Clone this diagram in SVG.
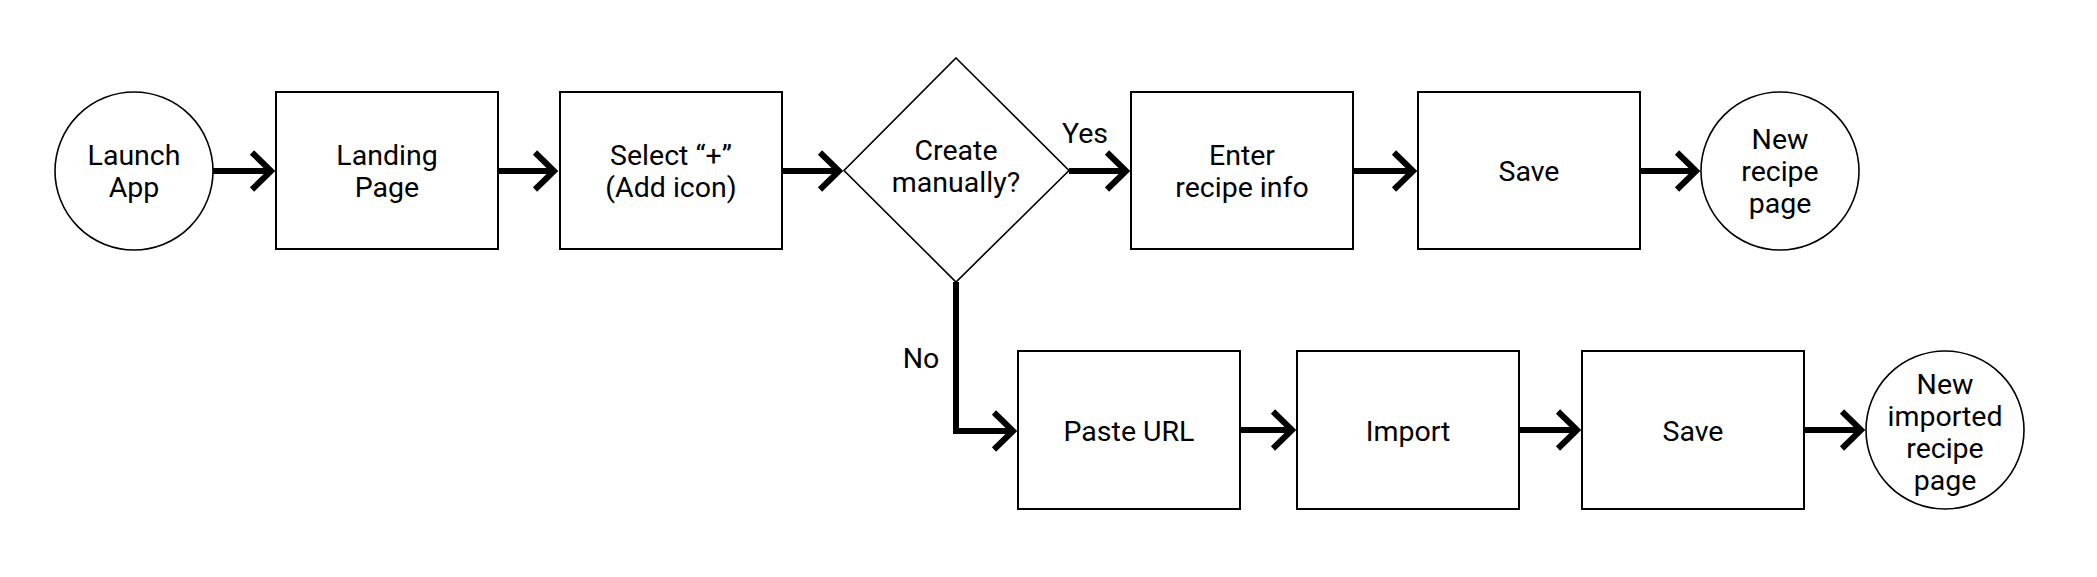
<svg xmlns="http://www.w3.org/2000/svg" width="2097" height="577" viewBox="0 0 2097 577">
  <style>
    .box { fill: #ffffff; stroke: #000000; stroke-width: 2; }
    .round { fill: #ffffff; stroke: #000000; stroke-width: 1.6; }
    .lbl { font-family: Roboto, "Liberation Sans", sans-serif; font-size: 28.5px; fill: #000000; text-anchor: middle; }
    .conn { fill: none; stroke: #000000; stroke-width: 6; stroke-linejoin: miter; stroke-linecap: butt; marker-end: url(#chev); }
  </style>
  <defs>
    <marker id="chev" markerUnits="userSpaceOnUse" markerWidth="40" markerHeight="50" refX="0" refY="0" orient="auto" overflow="visible">
      <path d="M-19,-18.5 L0,0 L-19,18.5" fill="none" stroke="#000000" stroke-width="6" stroke-linejoin="miter"/>
    </marker>
  </defs>
  <rect width="2097" height="577" fill="#ffffff"/>

  <g id="connectors">
    <path class="conn" d="M213,171 H271"/>
    <path class="conn" d="M498,171 H554"/>
    <path class="conn" d="M782,171 H839"/>
    <path class="conn" d="M1069,171 H1126"/>
    <path class="conn" d="M1353,171 H1413"/>
    <path class="conn" d="M1640,171 H1696"/>
    <path class="conn" d="M956,282 V431 H1013"/>
    <path class="conn" d="M1240,430 H1292"/>
    <path class="conn" d="M1519,430 H1577"/>
    <path class="conn" d="M1804,430 H1861"/>
    <text class="lbl" x="1085" y="143">Yes</text>
    <text class="lbl" x="921" y="368">No</text>
  </g>

  <g id="launch-app">
    <circle class="round" cx="134" cy="171" r="79"/>
    <text class="lbl" x="134" y="165">Launch</text>
    <text class="lbl" x="134" y="197">App</text>
  </g>
  <g id="landing-page">
    <rect class="box" x="276" y="92" width="222" height="157"/>
    <text class="lbl" x="387" y="165">Landing</text>
    <text class="lbl" x="387" y="197">Page</text>
  </g>
  <g id="select-add">
    <rect class="box" x="560" y="92" width="222" height="157"/>
    <text class="lbl" x="671" y="165">Select “+”</text>
    <text class="lbl" x="671" y="197">(Add icon)</text>
  </g>
  <g id="create-manually">
    <polygon class="round" points="956,58 1069,170.5 956,282 844,170.5"/>
    <text class="lbl" x="956" y="160">Create</text>
    <text class="lbl" x="956" y="192">manually?</text>
  </g>
  <g id="enter-recipe-info">
    <rect class="box" x="1131" y="92" width="222" height="157"/>
    <text class="lbl" x="1242" y="165">Enter</text>
    <text class="lbl" x="1242" y="197">recipe info</text>
  </g>
  <g id="save-manual">
    <rect class="box" x="1418" y="92" width="222" height="157"/>
    <text class="lbl" x="1529" y="181">Save</text>
  </g>
  <g id="new-recipe-page">
    <circle class="round" cx="1780" cy="171" r="79"/>
    <text class="lbl" x="1780" y="149">New</text>
    <text class="lbl" x="1780" y="181">recipe</text>
    <text class="lbl" x="1780" y="213">page</text>
  </g>
  <g id="paste-url">
    <rect class="box" x="1018" y="351" width="222" height="158"/>
    <text class="lbl" x="1129" y="440.5">Paste URL</text>
  </g>
  <g id="import">
    <rect class="box" x="1297" y="351" width="222" height="158"/>
    <text class="lbl" x="1408" y="440.5">Import</text>
  </g>
  <g id="save-import">
    <rect class="box" x="1582" y="351" width="222" height="158"/>
    <text class="lbl" x="1693" y="440.5">Save</text>
  </g>
  <g id="new-imported-recipe-page">
    <circle class="round" cx="1945" cy="430" r="79"/>
    <text class="lbl" x="1945" y="394">New</text>
    <text class="lbl" x="1945" y="426">imported</text>
    <text class="lbl" x="1945" y="458">recipe</text>
    <text class="lbl" x="1945" y="490">page</text>
  </g>
</svg>
